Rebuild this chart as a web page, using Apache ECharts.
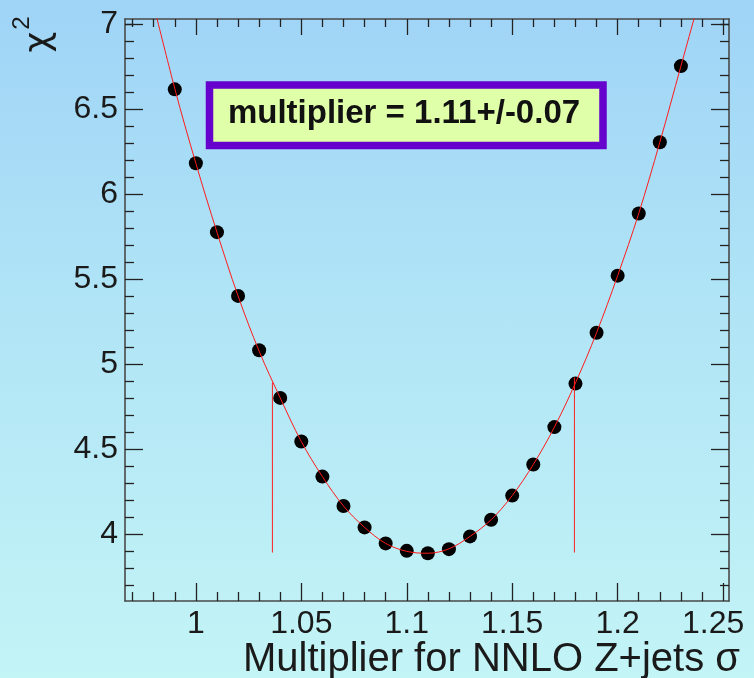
<!DOCTYPE html>
<html>
<head>
<meta charset="utf-8">
<script src="https://cdn.jsdelivr.net/npm/echarts@6/dist/echarts.min.js"></script>
<style>
html,body{margin:0;padding:0;}
#c{width:754px;height:678px;background:linear-gradient(to bottom,#9fd4f7 0%,#b2e6f6 50%,#c3f4f6 100%);}
</style>
</head>
<body>
<div id="c"></div>
<script>
// ---- data ----
const xPoints = [0.99,1.00,1.01,1.02,1.03,1.04,1.05,1.06,1.07,1.08,1.09,1.10,1.11,1.12,1.13,1.14,1.15,1.16,1.17,1.18,1.19,1.20,1.21,1.22,1.23];
const yPoints = [6.615,6.18,5.775,5.40,5.08,4.80,4.543,4.337,4.164,4.038,3.944,3.90,3.886,3.91,3.985,4.083,4.225,4.408,4.628,4.884,5.183,5.519,5.885,6.304,6.752];
const xCurve = [0.975,0.99,1.00,1.01,1.02,1.03,1.04,1.05,1.06,1.07,1.08,1.09,1.10,1.11,1.12,1.13,1.14,1.15,1.16,1.17,1.18,1.19,1.20,1.21,1.22,1.23,1.24];
const yCurve = [7.36,6.62,6.18,5.775,5.40,5.075,4.80,4.543,4.337,4.164,4.038,3.944,3.897,3.886,3.912,3.985,4.083,4.225,4.408,4.628,4.888,5.183,5.519,5.885,6.304,6.752,7.20];
const xErrLow = [1.0363,1.0363];
const yErrLow = [3.89,4.89];
const xErrHigh = [1.1795,1.1795];
const yErrHigh = [3.89,4.92];
const xMajorTicks = [1.00,1.05,1.10,1.15,1.20,1.25];
const xMinorTicks = [0.97,0.98,0.99,1.01,1.02,1.03,1.04,1.06,1.07,1.08,1.09,1.11,1.12,1.13,1.14,1.16,1.17,1.18,1.19,1.21,1.22,1.23,1.24];
const yMajorTicks = [4.0,4.5,5.0,5.5,6.0,6.5,7.0];
const yMinorTicks = [3.7,3.8,3.9,4.1,4.2,4.3,4.4,4.6,4.7,4.8,4.9,5.1,5.2,5.3,5.4,5.6,5.7,5.8,5.9,6.1,6.2,6.3,6.4,6.6,6.7,6.8,6.9,7.0];
const xTitle = 'Multiplier for NNLO Z+jets σ';
const yTitle = 'χ';
const yTitleSup = '2';
const boxText = 'multiplier = 1.11+/-0.07';

const X_MIN = 0.9664, X_MAX = 1.2528, Y_MIN = 3.605, Y_MAX = 7.029;
const FONT = '"Liberation Sans", Arial, Helvetica, sans-serif';
const AXC = '#4a4a4a';

function zip(a,b){return a.map((v,i)=>[v,b[i]]);}

function xAx(pos, ticks, len, labels, lineShow){
  return {
    type:'value', position:pos, min:X_MIN, max:X_MAX,
    axisLine:{show:lineShow, lineStyle:{color:AXC,width:1.6}},
    axisTick:{show:true, inside:true, length:len, customValues:ticks, lineStyle:{color:'#222',width:1.3}},
    axisLabel: labels ? {show:true, customValues:ticks, margin:7, fontSize:32, fontFamily:FONT, color:'#1a1a1a',
      formatter:function(v){ const s = String(+v.toFixed(2)); return Math.abs(v-1.25)<1e-6 ? '{r|'+s+'}' : s; },
      rich:{r:{fontSize:32, fontFamily:FONT, color:'#1a1a1a', padding:[0,20,0,0]}}} : {show:false},
    splitLine:{show:false}, minorTick:{show:false}
  };
}
function yAx(pos, ticks, len, labels, lineShow){
  return {
    type:'value', position:pos, min:Y_MIN, max:Y_MAX,
    axisLine:{show:lineShow, lineStyle:{color:AXC,width:1.6}},
    axisTick:{show:true, inside:true, length:len, customValues:ticks, lineStyle:{color:'#222',width:1.3}},
    axisLabel: labels ? {show:true, customValues:ticks, margin:7, fontSize:32, fontFamily:FONT, color:'#1a1a1a',
      formatter:function(v){ return String(+v.toFixed(2)); }} : {show:false},
    splitLine:{show:false}, minorTick:{show:false}
  };
}

const chart = echarts.init(document.getElementById('c'), null, {renderer:'canvas'});
chart.setOption({
  backgroundColor:'transparent',
  animation:false,
  grid:{left:125, right:25, top:19, bottom:77, containLabel:false},
  xAxis:[
    xAx('bottom', xMajorTicks, 18, true, true),
    xAx('bottom', xMinorTicks, 9, false, false),
    xAx('top', xMajorTicks, 16, false, true),
    xAx('top', xMinorTicks, 8, false, false)
  ],
  yAxis:[
    yAx('left', yMajorTicks, 18, true, true),
    yAx('left', yMinorTicks, 9, false, false),
    yAx('right', yMajorTicks, 18, false, true),
    yAx('right', yMinorTicks, 9, false, false)
  ],
  series:[
    {type:'scatter', xAxisIndex:0, yAxisIndex:0, data:zip(xPoints,yPoints), symbol:'circle', symbolSize:14,
      itemStyle:{color:'#000', opacity:1}, z:2},
    {type:'line', xAxisIndex:0, yAxisIndex:0, data:zip(xCurve,yCurve), smooth:0.35, showSymbol:false, symbol:'none',
      lineStyle:{color:'#ff1a1a', width:1}, clip:true, z:3},
    {type:'line', xAxisIndex:0, yAxisIndex:0, data:zip(xErrLow,yErrLow), showSymbol:false, symbol:'none',
      lineStyle:{color:'#ff2020', width:1}, z:3},
    {type:'line', xAxisIndex:0, yAxisIndex:0, data:zip(xErrHigh,yErrHigh), showSymbol:false, symbol:'none',
      lineStyle:{color:'#ff2020', width:1}, z:3}
  ],
  graphic:[
    {type:'rect', shape:{x:209.5, y:85, width:393.5, height:60.5},
      style:{fill:'#dfffa8', stroke:'#6600cc', lineWidth:7.5}, z:10},
    {type:'text', x:404, y:114, z:11,
      style:{text:boxText, fontSize:33, fontWeight:'bold', fontFamily:FONT, fill:'#111', align:'center', verticalAlign:'middle'}},
    {type:'text', x:40, y:42, rotation:Math.PI/2, z:11,
      style:{text:yTitle, fontSize:36, fontFamily:'"DejaVu Sans", sans-serif', fill:'#1a1a1a', align:'center', verticalAlign:'middle'}},
    {type:'text', x:22, y:23, rotation:Math.PI/2, z:11,
      style:{text:yTitleSup, fontSize:24, fontFamily:FONT, fill:'#1a1a1a', align:'center', verticalAlign:'middle'}},
    {type:'text', x:740, y:660, z:11,
      style:{text:xTitle, fontSize:40, fontFamily:FONT, fill:'#1a1a1a', align:'right', verticalAlign:'middle'}}
  ]
});
</script>
</body>
</html>
